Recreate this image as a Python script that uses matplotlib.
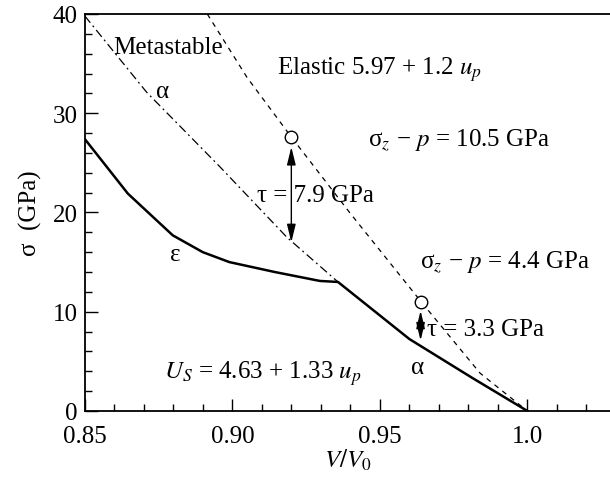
import numpy as np
import matplotlib
matplotlib.use('Agg')
import matplotlib.pyplot as plt
from matplotlib.ticker import MultipleLocator

plt.rcParams['font.family'] = ['Liberation Serif', 'DejaVu Serif']
plt.rcParams['mathtext.fontset'] = 'stix'
plt.rcParams['font.size'] = 18

# Hugoniot experimental (solide)
v_hug = [0.85, 0.8646, 0.8798, 0.890, 0.899, 0.9144, 0.9297, 0.9358, 0.960, 0.9815, 1.0]
s_hug = [27.4, 21.9, 17.7, 16.0, 15.0, 14.0, 13.1, 13.0, 7.25, 3.3, 0.0]

# alpha metastable (tiret-point)
v_meta = [0.85, 0.871, 0.8958, 0.9185, 0.9358]
s_meta = [39.8, 32.1, 24.6, 17.5, 13.0]

# elastique (tirets)
v_el = [0.8915, 0.905, 0.920, 0.940, 0.964, 0.984, 1.0]
s_el = [40.0, 33.6, 27.6, 19.9, 11.0, 3.8, 0.0]

# points et fleches de tau
v_pts = [0.920, 0.9638]
s_pts = [27.6, 11.0]
tau_haut = [26.6, 10.1]
tau_bas = [17.0, 7.1]

fig = plt.figure(figsize=(6.1, 4.81), dpi=100)
ax = fig.add_axes([0.139, 0.1435, 0.861, 0.8254])

ax.plot(v_hug, s_hug, color='k', lw=1.8)
ax.plot(v_meta, s_meta, color='k', lw=0.9, linestyle=(0, (7, 3, 1.5, 3)))
ax.plot(v_el, s_el, color='k', lw=0.9, linestyle=(0, (4, 4)))
ax.plot(v_pts, s_pts, 'o', ms=9, mfc='white', mec='k', mew=1, zorder=5)

for x, y1, y2 in zip(v_pts, tau_haut, tau_bas):
    ax.annotate('', xy=(x, y1), xytext=(x, y2),
                arrowprops=dict(arrowstyle='<|-|>,head_length=0.9,head_width=0.22',
                                color='k', lw=1, mutation_scale=12,
                                shrinkA=0, shrinkB=0))

# textes
ax.text(0.8595, 36.7, 'Metastable', va='center')
ax.text(0.8765, 32.2, 'α', ha='center', va='center')
ax.text(0.915, 34.5, 'Elastic 5.97 + 1.2 $u_p$', va='center')
ax.text(0.946, 27.4, 'σ$_z$ − $p$ = 10.5 GPa', va='center')
ax.text(0.9084, 21.8, 'τ = 7.9 GPa', va='center')
ax.text(0.8805, 15.8, 'ε', ha='center', va='center')
ax.text(0.9636, 15.1, 'σ$_z$ − $p$ = 4.4 GPa', va='center')
ax.text(0.966, 8.3, 'τ = 3.3 GPa', va='center')
ax.text(0.9629, 4.4, 'α', ha='center', va='center')
ax.text(0.877, 3.9, '$U_S$ = 4.63 + 1.33 $u_p$', va='center')

ax.set_xlim(0.85, 1.028)
ax.set_ylim(0, 40)
ax.set_xticks([0.85, 0.90, 0.95, 1.0])
ax.set_xticklabels(['0.85', '0.90', '0.95', '1.0'])
ax.set_yticks([0, 10, 20, 30, 40])
ax.xaxis.set_minor_locator(MultipleLocator(0.01))
ax.yaxis.set_minor_locator(MultipleLocator(2))
ax.tick_params(which='both', direction='in', top=False, right=False, width=1)
ax.tick_params(which='major', length=9)
ax.tick_params(axis='x', which='major', pad=10)
ax.tick_params(axis='y', which='major', pad=5)
ax.tick_params(which='minor', length=5)
ax.spines['right'].set_visible(False)
for s in ['left', 'bottom', 'top']:
    ax.spines[s].set_linewidth(1.3)

ax.set_xlabel('$V/V_0$', labelpad=0)
ax.set_ylabel('σ  (GPa)', labelpad=8)

fig.savefig('out.png', dpi=100)
